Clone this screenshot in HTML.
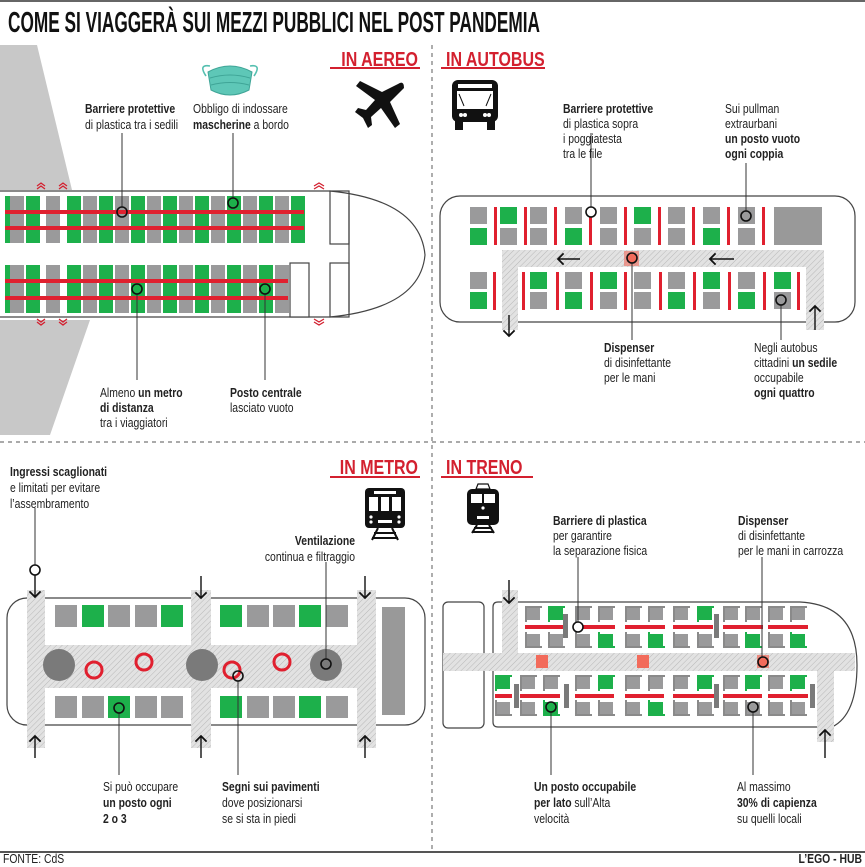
<!DOCTYPE html>
<html><head><meta charset="utf-8">
<style>
html,body{margin:0;padding:0;background:#fff;}
svg{display:block;font-family:"Liberation Sans",sans-serif;}
.t{font-size:13px;fill:#222;}
.b{font-weight:bold;}
.h{font-size:20px;font-weight:bold;fill:#d3202f;}
</style></head><body>
<svg id="s" width="865" height="867" viewBox="0 0 865 867" xmlns="http://www.w3.org/2000/svg">
<defs>
<pattern id="hatch" width="4" height="4" patternUnits="userSpaceOnUse" patternTransform="rotate(45)">
<rect width="4" height="4" fill="#e2e2e2"/><line x1="0" y1="0" x2="0" y2="4" stroke="#b8b8b8" stroke-width="1"/>
</pattern>
<marker id="ah" viewBox="0 0 10 10" refX="5" refY="5" markerWidth="10" markerHeight="10" orient="auto"><path d="M1,1 L5,5 L1,9" fill="none" stroke="#111" stroke-width="1.3"/></marker>
</defs>
<rect x="0" y="0" width="865" height="2" fill="#666"/>
<text x="8" y="32" font-size="29" font-weight="bold" fill="#111" textLength="532" lengthAdjust="spacingAndGlyphs">COME SI VIAGGERÀ SUI MEZZI PUBBLICI NEL POST PANDEMIA</text>
<line x1="432" y1="45" x2="432" y2="850" stroke="#777" stroke-width="1.2" stroke-dasharray="4,4"/>
<line x1="0" y1="442" x2="865" y2="442" stroke="#777" stroke-width="1.2" stroke-dasharray="4,4"/>
<rect x="0" y="851" width="865" height="2" fill="#555"/>
<g transform="translate(3 863) scale(0.8 1)"><text class="t" x="0" y="0" font-size="12">FONTE: CdS</text></g>
<g transform="translate(862 863) scale(0.8 1)"><text class="t b" x="0" y="0" font-size="12" text-anchor="end">L’EGO - HUB</text></g>

<!-- ============ AEREO ============ -->
<polygon points="0,45 37,45 72,190 0,190" fill="#c8c8c8"/>
<polygon points="0,320 90,320 50,435 0,435" fill="#c8c8c8"/>
<g id="plane"></g>
<line x1="0" y1="191" x2="330" y2="191" stroke="#444" stroke-width="1.2"/>
<line x1="0" y1="317" x2="330" y2="317" stroke="#444" stroke-width="1.2"/>
<path d="M330,191 Q420,200 425,255 Q420,308 330,317" fill="none" stroke="#444" stroke-width="1.2"/>
<line x1="349" y1="196" x2="349" y2="312" stroke="#444" stroke-width="1.2"/>
<rect x="330" y="191" width="19" height="53" fill="none" stroke="#444" stroke-width="1.2"/>
<rect x="330" y="263" width="19" height="54" fill="none" stroke="#444" stroke-width="1.2"/>
<rect x="290" y="263" width="19" height="54" fill="#fff" stroke="#444" stroke-width="1.2"/>
<g fill="none" stroke="#d3202f" stroke-width="1.3">
<path d="M37,189 l4,-3 l4,3 M37,186 l4,-3 l4,3 M59,189 l4,-3 l4,3 M59,186 l4,-3 l4,3 M314,189 l5,-3 l5,3 M314,186 l5,-3 l5,3"/>
<path d="M37,319 l4,3 l4,-3 M37,322 l4,3 l4,-3 M59,319 l4,3 l4,-3 M59,322 l4,3 l4,-3 M314,319 l5,3 l5,-3 M314,322 l5,3 l5,-3"/>
</g>
<g>
<path d="M206,76 Q198,64 210,66 M254,76 Q262,64 250,66" stroke="#55bfb0" stroke-width="1.6" fill="none"/>
<path d="M208,72 Q230,60 252,72 L249,90 Q230,100 211,90 Z" fill="#5ec7b7" stroke="#3fa597"/>
<path d="M210,78 Q230,72 250,78 M211,85 Q230,80 249,85" stroke="#3fa597" fill="none"/>
</g>
<path d="M398,84 Q404,80 404,88 L390,102 L400,124 L395,128 L381,108 L371,117 L372,125 L368,128 L363,118 L355,112 L358,108 L366,110 L375,100 L356,86 L360,81 L382,92 Z" fill="#111"/>
<g transform="translate(418 66) scale(0.8 1)"><text class="h" x="0" y="0" text-anchor="end">IN AEREO</text></g>
<rect x="330" y="67" width="90" height="2" fill="#d3202f"/>
<g transform="translate(85 113) scale(0.8 1)"><text class="t"><tspan class="b" x="0" y="0">Barriere protettive</tspan><tspan x="0" y="16">di plastica tra i sedili</tspan></text></g>
<g transform="translate(193 113) scale(0.8 1)"><text class="t"><tspan x="0" y="0">Obbligo di indossare</tspan><tspan x="0" y="16"><tspan class="b">mascherine</tspan> a bordo</tspan></text></g>
<line x1="122" y1="133" x2="122" y2="207" stroke="#333"/>
<circle cx="122" cy="212" r="5" fill="none" stroke="#111" stroke-width="1.6"/>
<line x1="233" y1="133" x2="233" y2="198" stroke="#333"/>
<circle cx="233" cy="203" r="5" fill="none" stroke="#111" stroke-width="1.6"/>
<line x1="137" y1="294" x2="137" y2="380" stroke="#333"/>
<circle cx="137" cy="289" r="5" fill="none" stroke="#111" stroke-width="1.6"/>
<line x1="265" y1="294" x2="265" y2="380" stroke="#333"/>
<circle cx="265" cy="289" r="5" fill="none" stroke="#111" stroke-width="1.6"/>
<g transform="translate(100 397) scale(0.8 1)"><text class="t"><tspan x="0" y="0">Almeno <tspan class="b">un metro</tspan></tspan><tspan class="b" x="0" y="15">di distanza</tspan><tspan x="0" y="30">tra i viaggiatori</tspan></text></g>
<g transform="translate(230 397) scale(0.8 1)"><text class="t"><tspan class="b" x="0" y="0">Posto centrale</tspan><tspan x="0" y="15">lasciato vuoto</tspan></text></g>

<!-- ============ AUTOBUS ============ -->
<g transform="translate(446 66) scale(0.8 1)"><text class="h" x="0" y="0">IN AUTOBUS</text></g>
<rect x="441" y="67" width="104" height="2" fill="#d3202f"/>
<g>
<rect x="452" y="80" width="46" height="42" rx="6" fill="#111"/>
<rect x="458" y="84" width="34" height="4" fill="#fff"/>
<rect x="457" y="91" width="36" height="18" fill="#fff"/>
<path d="M459,94 L464,106 M491,94 L486,106" stroke="#111" stroke-width="1"/>
<circle cx="461" cy="115" r="2" fill="#fff"/><circle cx="465" cy="115" r="2" fill="#fff"/>
<circle cx="485" cy="115" r="2" fill="#fff"/><circle cx="489" cy="115" r="2" fill="#fff"/>
<rect x="455" y="121" width="8" height="9" fill="#111"/><rect x="487" y="121" width="8" height="9" fill="#111"/>
</g>
<rect x="440" y="196" width="415" height="126" rx="20" fill="#fff" stroke="#444" stroke-width="1.2"/>
<path d="M502,250 H824 V330 H806 V267 H518 V330 H502 Z" fill="url(#hatch)"/>
<g id="bus"></g>
<rect x="774" y="207" width="48" height="38" fill="#999"/>
<line x1="580" y1="259" x2="558" y2="259" stroke="#111" stroke-width="1.4" marker-end="url(#ah)"/>
<line x1="734" y1="259" x2="710" y2="259" stroke="#111" stroke-width="1.4" marker-end="url(#ah)"/>
<line x1="509" y1="315" x2="509" y2="336" stroke="#111" stroke-width="1.4" marker-end="url(#ah)"/>
<line x1="815" y1="330" x2="815" y2="306" stroke="#111" stroke-width="1.4" marker-end="url(#ah)"/>
<rect x="624" y="251" width="15" height="15" fill="#f26b5b" opacity="0.6"/>
<line x1="632" y1="263" x2="632" y2="340" stroke="#333"/>
<circle cx="632" cy="258" r="5" fill="#f26b5b" stroke="#111" stroke-width="1.6"/>
<line x1="591" y1="133" x2="591" y2="207" stroke="#333"/>
<circle cx="591" cy="212" r="5" fill="#fff" stroke="#111" stroke-width="1.6"/>
<line x1="746" y1="163" x2="746" y2="211" stroke="#333"/>
<circle cx="746" cy="216" r="5" fill="none" stroke="#111" stroke-width="1.6"/>
<line x1="781" y1="305" x2="781" y2="340" stroke="#333"/>
<circle cx="781" cy="300" r="5" fill="none" stroke="#111" stroke-width="1.6"/>
<g transform="translate(563 113) scale(0.8 1)"><text class="t"><tspan class="b" x="0" y="0">Barriere protettive</tspan><tspan x="0" y="15">di plastica sopra</tspan><tspan x="0" y="30">i poggiatesta</tspan><tspan x="0" y="45">tra le file</tspan></text></g>
<g transform="translate(725 113) scale(0.8 1)"><text class="t"><tspan x="0" y="0">Sui pullman</tspan><tspan x="0" y="15">extraurbani</tspan><tspan class="b" x="0" y="30">un posto vuoto</tspan><tspan class="b" x="0" y="45">ogni coppia</tspan></text></g>
<g transform="translate(604 352) scale(0.8 1)"><text class="t"><tspan class="b" x="0" y="0">Dispenser</tspan><tspan x="0" y="15">di disinfettante</tspan><tspan x="0" y="30">per le mani</tspan></text></g>
<g transform="translate(754 352) scale(0.8 1)"><text class="t"><tspan x="0" y="0">Negli autobus</tspan><tspan x="0" y="15">cittadini <tspan class="b">un sedile</tspan></tspan><tspan x="0" y="30">occupabile</tspan><tspan class="b" x="0" y="45">ogni quattro</tspan></text></g>

<!-- ============ METRO ============ -->
<g transform="translate(418 474) scale(0.8 1)"><text class="h" x="0" y="0" text-anchor="end">IN METRO</text></g>
<rect x="330" y="476" width="90" height="2" fill="#d3202f"/>
<g>
<rect x="365" y="488" width="40" height="40" rx="4" fill="#111"/>
<rect x="374" y="491" width="22" height="3" fill="#fff"/>
<rect x="369" y="497" width="9" height="14" fill="#fff"/><rect x="381" y="497" width="8" height="14" fill="#fff"/><rect x="392" y="497" width="9" height="14" fill="#fff"/>
<circle cx="371" cy="517" r="1.6" fill="#fff"/><circle cx="371" cy="522" r="1.6" fill="#fff"/><circle cx="399" cy="517" r="1.6" fill="#fff"/><circle cx="399" cy="522" r="1.6" fill="#fff"/>
<rect x="378" y="520" width="14" height="3" fill="#fff"/>
<path d="M372,540 L378,528 M398,540 L392,528 M374,533 H396 M372,538 H398" stroke="#111" stroke-width="2"/>
</g>
<rect x="7" y="598" width="418" height="127" rx="20" fill="#fff" stroke="#444" stroke-width="1.2"/>
<path d="M27,590 H45 V645 H191 V590 H211 V645 H357 V590 H376 V748 H357 V688 H211 V748 H191 V688 H45 V748 H27 Z" fill="url(#hatch)"/>
<g id="metro"></g>
<rect x="382" y="607" width="23" height="108" fill="#999"/>
<circle cx="59" cy="665" r="16" fill="#7a7a7a"/><circle cx="202" cy="665" r="16" fill="#7a7a7a"/><circle cx="326" cy="665" r="16" fill="#7a7a7a"/>
<g fill="none" stroke="#e0202f" stroke-width="3"><circle cx="94" cy="670" r="8"/><circle cx="144" cy="662" r="8"/><circle cx="232" cy="670" r="8"/><circle cx="282" cy="662" r="8"/></g>
<g stroke="#111" stroke-width="1.4">
<line x1="35" y1="575" x2="35" y2="597" marker-end="url(#ah)"/>
<line x1="201" y1="576" x2="201" y2="598" marker-end="url(#ah)"/>
<line x1="365" y1="576" x2="365" y2="598" marker-end="url(#ah)"/>
<line x1="35" y1="758" x2="35" y2="736" marker-end="url(#ah)"/>
<line x1="201" y1="758" x2="201" y2="736" marker-end="url(#ah)"/>
<line x1="365" y1="758" x2="365" y2="736" marker-end="url(#ah)"/>
</g>
<line x1="35" y1="508" x2="35" y2="565" stroke="#333"/>
<circle cx="35" cy="570" r="5" fill="#fff" stroke="#111" stroke-width="1.6"/>
<line x1="326" y1="562" x2="326" y2="659" stroke="#333"/>
<circle cx="326" cy="664" r="5" fill="none" stroke="#111" stroke-width="1.6"/>
<line x1="119" y1="713" x2="119" y2="775" stroke="#333"/>
<circle cx="119" cy="708" r="5" fill="none" stroke="#111" stroke-width="1.6"/>
<line x1="238" y1="681" x2="238" y2="775" stroke="#333"/>
<circle cx="238" cy="676" r="5" fill="none" stroke="#111" stroke-width="1.6"/>
<g transform="translate(10 476) scale(0.8 1)"><text class="t"><tspan class="b" x="0" y="0">Ingressi scaglionati</tspan><tspan x="0" y="16">e limitati per evitare</tspan><tspan x="0" y="32">l’assembramento</tspan></text></g>
<g transform="translate(355 545) scale(0.8 1)"><text class="t" text-anchor="end"><tspan class="b" x="0" y="0">Ventilazione</tspan><tspan x="0" y="16">continua e filtraggio</tspan></text></g>
<g transform="translate(103 791) scale(0.8 1)"><text class="t"><tspan x="0" y="0">Si può occupare</tspan><tspan class="b" x="0" y="16">un posto ogni</tspan><tspan class="b" x="0" y="32">2 o 3</tspan></text></g>
<g transform="translate(222 791) scale(0.8 1)"><text class="t"><tspan class="b" x="0" y="0">Segni sui pavimenti</tspan><tspan x="0" y="16">dove posizionarsi</tspan><tspan x="0" y="32">se si sta in piedi</tspan></text></g>

<!-- ============ TRENO ============ -->
<g transform="translate(446 474) scale(0.8 1)"><text class="h" x="0" y="0">IN TRENO</text></g>
<rect x="441" y="476" width="92" height="2" fill="#d3202f"/>
<g>
<path d="M478,484 H488 L490,489 H476 Z" fill="none" stroke="#111" stroke-width="1.2"/>
<rect x="467" y="489" width="32" height="36" rx="5" fill="#111"/>
<rect x="471" y="494" width="11" height="9" fill="#fff"/><rect x="484" y="494" width="11" height="9" fill="#fff"/>
<circle cx="483" cy="508" r="1.6" fill="#fff"/>
<rect x="477" y="516" width="12" height="3" fill="#fff"/>
<path d="M472,533 L477,525 M494,533 L489,525 M474,528 H492 M472,532 H494" stroke="#111" stroke-width="2"/>
</g>
<rect x="443" y="602" width="41" height="126" rx="5" fill="#fff" stroke="#444" stroke-width="1.2"/>
<path d="M498,602 H800 Q857,605 857,665 Q857,715 832,727 H498 Q493,727 493,722 V607 Q493,602 498,602 Z" fill="#fff" stroke="#444" stroke-width="1.2"/>
<path d="M443,653 H502 V590 H518 V653 H855 V671 H834 V742 H817 V671 H443 Z" fill="url(#hatch)"/>
<g id="train"></g>
<rect x="536" y="655" width="12" height="13" fill="#f26b5b"/>
<rect x="637" y="655" width="12" height="13" fill="#f26b5b"/>
<rect x="757" y="655" width="12" height="13" fill="#f26b5b" opacity="0.7"/>
<g stroke="#111" stroke-width="1.4">
<line x1="509" y1="580" x2="509" y2="603" marker-end="url(#ah)"/>
<line x1="825" y1="758" x2="825" y2="730" marker-end="url(#ah)"/>
</g>
<line x1="578" y1="557" x2="578" y2="622" stroke="#333"/>
<circle cx="578" cy="627" r="5" fill="#fff" stroke="#111" stroke-width="1.6"/>
<line x1="762" y1="557" x2="762" y2="657" stroke="#333"/>
<circle cx="763" cy="662" r="5" fill="#f26b5b" stroke="#111" stroke-width="1.6"/>
<line x1="551" y1="712" x2="551" y2="775" stroke="#333"/>
<circle cx="551" cy="707" r="5" fill="none" stroke="#111" stroke-width="1.6"/>
<line x1="753" y1="712" x2="753" y2="775" stroke="#333"/>
<circle cx="753" cy="707" r="5" fill="none" stroke="#111" stroke-width="1.6"/>
<g transform="translate(553 525) scale(0.8 1)"><text class="t"><tspan class="b" x="0" y="0">Barriere di plastica</tspan><tspan x="0" y="15">per garantire</tspan><tspan x="0" y="30">la separazione fisica</tspan></text></g>
<g transform="translate(738 525) scale(0.8 1)"><text class="t"><tspan class="b" x="0" y="0">Dispenser</tspan><tspan x="0" y="15">di disinfettante</tspan><tspan x="0" y="30">per le mani in carrozza</tspan></text></g>
<g transform="translate(534 791) scale(0.8 1)"><text class="t"><tspan class="b" x="0" y="0">Un posto occupabile</tspan><tspan x="0" y="16"><tspan class="b">per lato</tspan> sull’Alta</tspan><tspan x="0" y="32">velocità</tspan></text></g>
<g transform="translate(737 791) scale(0.8 1)"><text class="t"><tspan x="0" y="0">Al massimo</tspan><tspan class="b" x="0" y="16">30% di capienza</tspan><tspan x="0" y="32">su quelli locali</tspan></text></g>
</svg>
<script>
var NS="http://www.w3.org/2000/svg",G="#1db04b",Y="#9a9a9b",R="#e0202f";
function r(g,x,y,w,h,f){var e=document.createElementNS(NS,"rect");e.setAttribute("x",x);e.setAttribute("y",y);e.setAttribute("width",w);e.setAttribute("height",h);e.setAttribute("fill",f);g.appendChild(e);}
var p=document.getElementById("plane");
var cols=[[5,5,G],[10,14,Y],[26,14,G],[46,14,Y],[67,14,G]];
for(var x=83,i=0;x<300;x+=16,i++)cols.push([x,14,i%2?G:Y]);
cols.forEach(function(c){r(p,c[0],196,c[1],47,c[2]);});
cols.forEach(function(c){if(c[0]<288)r(p,c[0],265,c[1],48,c[2]);});
r(p,5,210,299,4,R);r(p,5,226,299,4,R);
r(p,5,279,283,4,R);r(p,5,296,283,4,R);
var b=document.getElementById("bus");
var bx=[470,500,530,565,600,634,668,703,738];
var tu=[Y,G,Y,Y,Y,G,Y,Y,Y],tl=[G,Y,Y,G,Y,Y,Y,G,Y];
bx.forEach(function(x,i){r(b,x,207,17,17,tu[i]);r(b,x,228,17,17,tl[i]);r(b,x+24,207,3,38,R);});
var lx=[470,530,565,600,634,668,703,738,774],lu=[Y,G,Y,G,Y,Y,G,Y,G],ll=[G,Y,G,Y,Y,G,Y,G,Y];
lx.forEach(function(x,i){r(b,x,272,17,17,lu[i]);r(b,x,292,17,17,ll[i]);});
[493,522,556,590,624,659,693,728,763,797].forEach(function(x){r(b,x,272,3,38,R);});
var m=document.getElementById("metro");
var mx=[55,82,108,135,161,220,247,273,299,326];
var mt=[Y,G,Y,Y,G,G,Y,Y,G,Y],mb=[Y,Y,G,Y,Y,G,Y,Y,G,Y];
mx.forEach(function(x,i){r(m,x,605,22,22,mt[i]);r(m,x,696,22,22,mb[i]);});
var t=document.getElementById("train");
function seat(x,y,c,flip){r(t,x,y,13,12,c);r(t,x-2,flip?y+12:y-2,17,2,c==G?G:"#8a8a8a");r(t,x-2,y-2,2,16,c==G?G:"#8a8a8a");}
var tx=[527,550,577,600,627,650,675,699,725,747,770,792];
var tuu={550:1,699:1},tul={600:1,650:1,747:1,792:1};
tx.forEach(function(x){seat(x,608,tuu[x]?G:Y,0);seat(x,634,tul[x]?G:Y,1);});
[[527,549],[577,599],[627,649],[675,697],[725,746],[770,791]].forEach(function(a){r(t,a[0]-2,625,40,4,R);});
r(t,563,614,5,24,"#7a7a7a");r(t,714,614,5,24,"#7a7a7a");
var bxs=[497,522,545,577,600,627,650,675,699,725,747,770,792];
var bu={497:1,600:1,699:1,747:1,792:1},bl={545:1,650:1};
bxs.forEach(function(x){seat(x,677,bu[x]?G:Y,0);seat(x,702,bl[x]?G:Y,1);});
[[497,510],[522,558],[577,612],[627,662],[675,712],[725,760],[770,806]].forEach(function(a){r(t,a[0]-2,694,a[1]-a[0]+4,4,R);});
[514,564,714,810].forEach(function(x){r(t,x,684,5,24,"#7a7a7a");});
</script>
</body></html>
